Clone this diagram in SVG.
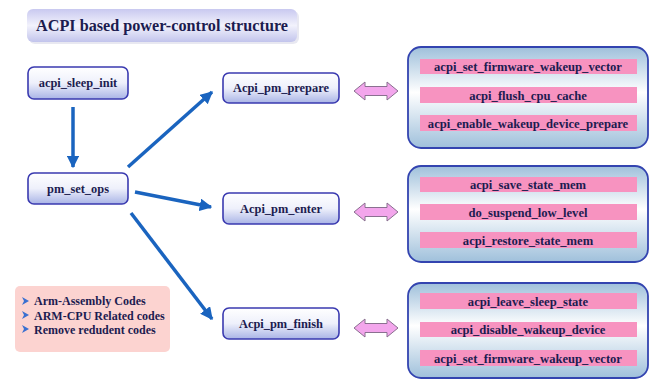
<svg xmlns="http://www.w3.org/2000/svg" width="657" height="381" viewBox="0 0 657 381">
<defs>
<linearGradient id="gNode" x1="0" y1="0" x2="0" y2="1">
<stop offset="0" stop-color="#ffffff"/><stop offset="0.5" stop-color="#eef0fb"/><stop offset="1" stop-color="#a9b4e6"/>
</linearGradient>
<linearGradient id="gTitle" x1="0" y1="0" x2="0" y2="1">
<stop offset="0" stop-color="#c9c9f0"/><stop offset="0.5" stop-color="#f2f2fc"/><stop offset="1" stop-color="#c2c4ec"/>
</linearGradient>
<linearGradient id="gGroup" x1="0" y1="0" x2="0" y2="1">
<stop offset="0" stop-color="#9fc0db"/><stop offset="0.45" stop-color="#ffffff"/><stop offset="1" stop-color="#9fc0db"/>
</linearGradient>
<marker id="ah" viewBox="0 0 10 10" refX="9" refY="5" markerWidth="3.6" markerHeight="3.6" orient="auto" markerUnits="strokeWidth">
<path d="M0,0 L10,5 L0,10 z" fill="#1a64bf"/>
</marker>
<path id="dbl" d="M0,0 L11,-9 L11,-4.5 L33,-4.5 L33,-9 L44,0 L33,9 L33,4.5 L11,4.5 L11,9 z"/>
</defs>
<style>
.node{fill:url(#gNode);stroke:#3a3ab0;stroke-width:1.6}
.group{fill:url(#gGroup);stroke:#3344b0;stroke-width:1.8}
.bar{fill:#f793c0}
.t{font-weight:bold;fill:#1c1c50;text-anchor:middle}
.nt{font-size:12.4px}
.bt{font-size:12.6px}
.conn{stroke:#1a64bf;stroke-width:3.5;fill:none;marker-end:url(#ah)}
.dbl{fill:#f3a6ec;stroke:#8a7090;stroke-width:1}
.lt{font-size:12px;fill:#1c1c50;font-weight:bold}
.bul{fill:#3a6fd0}
</style>
<rect width="657" height="381" fill="#ffffff"/>

<g font-family="Liberation Serif, Times New Roman, serif">
<g id="title">
<rect x="29" y="11" width="270" height="33" rx="6" fill="#d8d8e8" opacity="0.6"/>
<rect x="27" y="9" width="270" height="33" rx="6" fill="url(#gTitle)"/>
<text x="162" y="31" class="t" font-size="16.2">ACPI based power-control structure</text>
</g>

<g id="connectors">
<line x1="73" y1="107" x2="73" y2="167" class="conn"/>
<line x1="128" y1="167" x2="212" y2="92" class="conn"/>
<line x1="135" y1="192" x2="211" y2="207" class="conn"/>
<line x1="131" y1="213" x2="212" y2="319" class="conn"/>
<use href="#dbl" x="354" y="91" class="dbl"/>
<use href="#dbl" x="354" y="212" class="dbl"/>
<use href="#dbl" x="354" y="328" class="dbl"/>
</g>

<g id="acpi_sleep_init">
<rect x="28" y="67" width="100" height="32" rx="6" class="node"/>
<text x="78" y="87" class="t nt">acpi_sleep_init</text>
</g>
<g id="pm_set_ops">
<rect x="28" y="173" width="100" height="31" rx="6" class="node"/>
<text x="78" y="193" class="t nt">pm_set_ops</text>
</g>
<g id="acpi_pm_prepare">
<rect x="223" y="73" width="116" height="30" rx="6" class="node"/>
<text x="281" y="92" class="t nt">Acpi_pm_prepare</text>
</g>
<g id="acpi_pm_enter">
<rect x="223" y="193" width="116" height="31" rx="6" class="node"/>
<text x="281" y="213" class="t nt">Acpi_pm_enter</text>
</g>
<g id="acpi_pm_finish">
<rect x="223" y="308" width="116" height="31" rx="6" class="node"/>
<text x="281" y="328" class="t nt">Acpi_pm_finish</text>
</g>

<g id="group_prepare">
<rect x="408" y="47" width="240" height="101" rx="13" class="group"/>
<rect x="420" y="59" width="217" height="15" class="bar"/>
<text x="528" y="71" class="t bt">acpi_set_firmware_wakeup_vector</text>
<rect x="420" y="87" width="217" height="16" class="bar"/>
<text x="528" y="99.5" class="t bt">acpi_flush_cpu_cache</text>
<rect x="420" y="115" width="217" height="16" class="bar"/>
<text x="528" y="127.5" class="t bt">acpi_enable_wakeup_device_prepare</text>
</g>
<g id="group_enter">
<rect x="408" y="166" width="240" height="96" rx="13" class="group"/>
<rect x="420" y="177" width="217" height="15" class="bar"/>
<text x="528" y="189" class="t bt">acpi_save_state_mem</text>
<rect x="420" y="204" width="217" height="16" class="bar"/>
<text x="528" y="216.5" class="t bt">do_suspend_low_level</text>
<rect x="420" y="232" width="217" height="16" class="bar"/>
<text x="528" y="244.5" class="t bt">acpi_restore_state_mem</text>
</g>
<g id="group_finish">
<rect x="408" y="283" width="240" height="95" rx="13" class="group"/>
<rect x="420" y="293" width="217" height="16" class="bar"/>
<text x="528" y="305.5" class="t bt">acpi_leave_sleep_state</text>
<rect x="420" y="322" width="217" height="15" class="bar"/>
<text x="528" y="334" class="t bt">acpi_disable_wakeup_device</text>
<rect x="420" y="350" width="217" height="16" class="bar"/>
<text x="528" y="362.5" class="t bt">acpi_set_firmware_wakeup_vector</text>
</g>

<g id="legend">
<rect x="15" y="286" width="155" height="66" rx="5" fill="#fcd3d0"/>
<path d="M22,297 L29,301 L22,305 L24,301 z" class="bul"/>
<text x="34" y="305" class="lt">Arm-Assembly Codes</text>
<path d="M22,311 L29,315 L22,319 L24,315 z" class="bul"/>
<text x="34" y="319.5" class="lt">ARM-CPU Related codes</text>
<path d="M22,325 L29,329 L22,333 L24,329 z" class="bul"/>
<text x="34" y="334" class="lt">Remove redudent codes</text>
</g>
</g>
</svg>
